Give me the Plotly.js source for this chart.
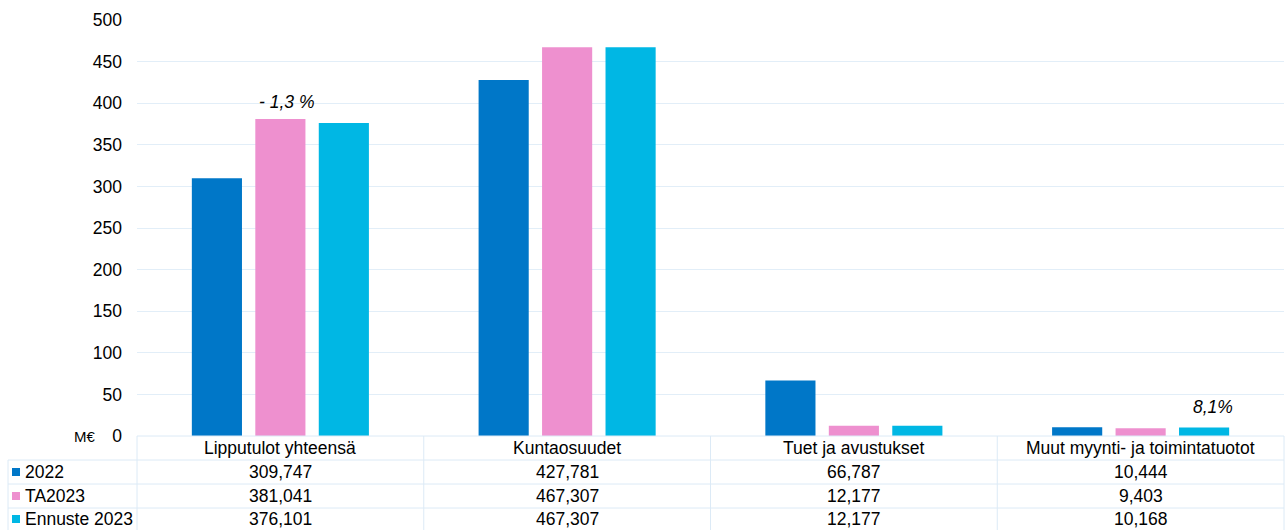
<!DOCTYPE html>
<html><head><meta charset="utf-8">
<script src="https://cdn.plot.ly/plotly-3.0.1.min.js"></script>
<style>html,body{margin:0;padding:0;background:#fff}#chart{width:1286px;height:530px}</style>
</head><body><div id="chart"></div>
<script>
const categories = ["Lipputulot yhteensä", "Kuntaosuudet", "Tuet ja avustukset", "Muut myynti- ja toimintatuotot"];
const seriesNames = ["2022", "TA2023", "Ennuste 2023"];
const v2022 = [309.747, 427.781, 66.787, 10.444];
const vTA2023 = [381.041, 467.307, 12.177, 9.403];
const vEnnuste = [376.101, 467.307, 12.177, 10.168];
const tableLabels2022 = ["309,747", "427,781", "66,787", "10,444"];
const tableLabelsTA = ["381,041", "467,307", "12,177", "9,403"];
const tableLabelsEnn = ["376,101", "467,307", "12,177", "10,168"];
const colors = ["#0077C8", "#EE90CF", "#00B7E4"];
const noteLipput = "- 1,3 %";
const noteMuut = "8,1%";

const W = 1286, H = 530, L = 137, R = 2, T = 20, B = 94;
const pw = W - L - R, ph = H - T - B;
const px2x = p => (p - L) / pw;
const py2y = p => (H - B - p) / ph;

const values = [v2022, vTA2023, vEnnuste];
const rowLabels = [tableLabels2022, tableLabelsTA, tableLabelsEnn];
const traces = seriesNames.map((n, i) => ({
  type: 'bar', name: n, x: categories, y: values[i],
  marker: {color: colors[i]}, hoverinfo: 'none'
}));

const font = {family: 'Liberation Sans, Arial, sans-serif', size: 17.5, color: '#000'};
const lineCol = '#DCEAF6';
const shapes = [];
const annotations = [];
const rowTops = [460, 484, 508, 531];
rowTops.slice(0,3).forEach(yp => shapes.push({type:'line', xref:'paper', yref:'paper', x0:px2x(8), x1:1, y0:py2y(yp), y1:py2y(yp), line:{color:lineCol, width:1}}));
const colEdges = [137, 423.75, 710.5, 997.25, 1284];
colEdges.forEach(xp => shapes.push({type:'line', xref:'paper', yref:'paper', x0:px2x(xp), x1:px2x(xp), y0:py2y(436), y1:py2y(531), line:{color:lineCol, width:1}}));
shapes.push({type:'line', xref:'paper', yref:'paper', x0:px2x(8), x1:px2x(8), y0:py2y(460), y1:py2y(531), line:{color:lineCol, width:1}});
shapes.push({type:'line', xref:'paper', yref:'paper', x0:0, x1:1, y0:0, y1:0, line:{color:lineCol, width:1}});

categories.forEach(c => annotations.push({x:c, xref:'x', y:py2y(448), yref:'paper', text:c, showarrow:false, font:font, xanchor:'center', yanchor:'middle'}));
const rowCenters = [472, 496, 519];
rowLabels.forEach((labels, r) => {
  labels.forEach((t, i) => annotations.push({x:categories[i], xref:'x', y:py2y(rowCenters[r]), yref:'paper', text:t, showarrow:false, font:font, xanchor:'center', yanchor:'middle'}));
  shapes.push({type:'rect', xref:'paper', yref:'paper', x0:px2x(12), x1:px2x(20), y0:py2y(rowCenters[r]+4), y1:py2y(rowCenters[r]-4), fillcolor:colors[r], line:{width:0}});
  annotations.push({x:px2x(23), xref:'paper', y:py2y(rowCenters[r]), yref:'paper', text:seriesNames[r], showarrow:false, font:font, xanchor:'left', yanchor:'middle'});
});
annotations.push({x:px2x(84), xref:'paper', y:py2y(436), yref:'paper', text:'M€', showarrow:false, font:{family:font.family, size:15, color:'#000'}, xanchor:'center', yanchor:'middle'});
annotations.push({x:categories[0], xref:'x', y:vTA2023[0], yref:'y', text:'<i>'+noteLipput+'</i>', showarrow:false, font:font, xanchor:'center', yanchor:'bottom', xshift:6, yshift:5});
annotations.push({x:categories[3], xref:'x', y:vEnnuste[3], yref:'y', text:'<i>'+noteMuut+'</i>', showarrow:false, font:font, xanchor:'center', yanchor:'bottom', xshift:72, yshift:9});

const layout = {
  width: W, height: H,
  margin: {l: L, r: R, t: T, b: B, pad: 0},
  paper_bgcolor: '#fff', plot_bgcolor: '#fff',
  barmode: 'group', bargap: 0.336, bargroupgap: 0.21,
  showlegend: false,
  font: font,
  xaxis: {showticklabels: false, showgrid: false, zeroline: false, showline: false, ticks: ''},
  yaxis: {range: [0, 500], dtick: 50, tick0: 0, showgrid: true, gridcolor: '#E2EEF8', gridwidth: 1,
          zeroline: false, showline: false, ticks: '', ticklen: 0, ticklabelstandoff: 14,
          tickfont: {family: font.family, size: 17.5, color: '#000'}, automargin: false},
  shapes: shapes, annotations: annotations
};
Plotly.newPlot('chart', traces, layout, {displayModeBar: false, staticPlot: true});
</script></body></html>
